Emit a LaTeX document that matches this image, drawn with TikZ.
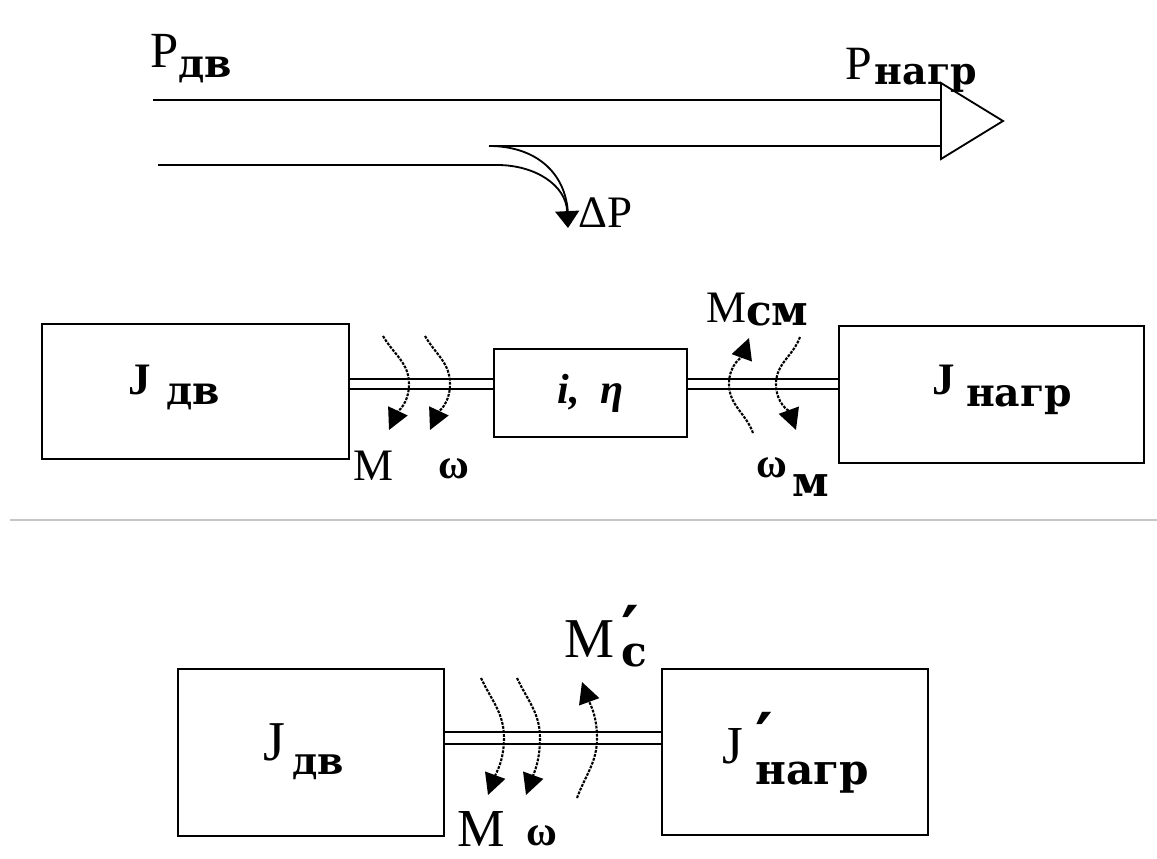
\documentclass[tikz,border=0pt]{standalone}
\usepackage{fontspec}
\setmainfont{Liberation Serif}
\newfontfamily\subfont{DejaVu Serif}
\usetikzlibrary{arrows.meta}

% one unit is one pixel of the sheet, y runs downwards
\newcommand{\pxl}{0.025cm}
\newcommand{\fs}[1]{\fontsize{#1}{#1}\selectfont}
% lowered bold index: shift, size, text
\newcommand{\idx}[3]{\raisebox{-#1}{\subfont\bfseries\fs{#2}#3}}
% prime above a lowered bold index: raise, shift, size, text
\newcommand{\pidx}[4]{\rlap{\raisebox{#1}{\subfont\bfseries\fs{48}′}}\raisebox{-#2}{\subfont\bfseries\fs{#3}#4}}

\begin{document}
\begin{tikzpicture}[x=\pxl, y=-\pxl,
	box/.style={draw, line width=1.5pt, inner sep=0pt, anchor=north west},
	shaft/.style={double, double distance=5.8pt, line width=1.3pt},
	torque/.style={line width=1.5pt, dash pattern=on 2pt off 0.9pt, -{Triangle[length=15pt,width=15pt]}},
	flow/.style={line width=1.3pt},
	lbl/.style={anchor=base west, inner sep=0pt}]
	\useasboundingbox[fill=white] (0,0) rectangle (1157,859);
	
	% power flow
	\coordinate (Pin) at (153,100);
	\coordinate (Pout) at (941,100);
	\coordinate (Rin) at (489,146);
	\coordinate (Rout) at (941,146);
	\coordinate (Lin) at (158,165);
	\coordinate (Lout) at (497,165);
	\coordinate (tip) at (1003,121);
	\coordinate (loss) at (568,228);
	\draw[flow] (Pin) -- (Pout);
	\draw[flow] (Rin) -- (Rout);
	\draw[flow] (Lin) -- (Lout);
	\draw[flow] (941,83) -- (tip) -- (941,159) -- cycle;
	\draw[flow] (Rin) .. controls (535,146) and (566,172) .. (568,214);
	\draw[flow, -{Triangle[length=12pt,width=17pt]}] (Lout) .. controls (535,165) and (566,185) .. (loss);
	
	\node[lbl, font=\fs{36}] (Pdv) at (150,68) {P\idx{7pt}{28}{дв}};
	\node[lbl, font=\fs{34}] (Pnagr) at (845,80) {P\hspace{2pt}\idx{3pt}{27}{нагр}};
	\node[lbl, font=\fs{32}] (dP) at (578,228) {ΔP};
	
	% real drive
	\node[box, minimum width=307*\pxl, minimum height=135*\pxl] (Jdv) at (41,323) {};
	\node[box, minimum width=193*\pxl, minimum height=88*\pxl, font=\fs{30}\bfseries\itshape] (gear) at (493,348) {i,\ \ η};
	\node[box, minimum width=305*\pxl, minimum height=137*\pxl] (Jnagr) at (838,325) {};
	\draw[shaft] (Jdv.east |- 0,384) -- (gear.west |- 0,384);
	\draw[shaft] (gear.east |- 0,384) -- (Jnagr.west |- 0,384);
	
	\draw[torque] (383,336) to[out=-60,in=90] (409,384) to[out=-90,in=65] (389,430);
	\draw[torque] (425,336) to[out=-60,in=90] (450,384) to[out=-90,in=65] (430,430);
	\draw[torque] (753,433) to[out=110,in=-90] (729,384) to[out=90,in=-110] (749,338);
	\draw[torque] (800,337) to[out=-110,in=90] (776,384) to[out=-90,in=110] (796,430);
	
	\node[lbl, font=\fs{32}\bfseries] (lJdv) at (128,395) {J\hspace{11pt}\idx{7pt}{28}{дв}};
	\node[lbl, font=\fs{32}] (lM) at (353,480) {M};
	\node[lbl, font=\fs{30}\bfseries] (lw) at (438,478) {ω};
	\node[lbl, font=\fs{32}] (lMcm) at (706,323) {M\idx{2pt}{30}{см}};
	\node[lbl, font=\fs{30}\bfseries] (lwm) at (756,477) {ω\hspace{4pt}\idx{14pt}{30}{м}};
	\node[lbl, font=\fs{32}\bfseries] (lJnagr) at (932,395) {J\hspace{8pt}\idx{8.5pt}{28}{нагр}};
	
	\draw[gray!45, line width=1.5pt] (10,520) -- (1157,520);
	
	% reduced drive
	\node[box, minimum width=266*\pxl, minimum height=167*\pxl] (Jdv2) at (177,668) {};
	\node[box, minimum width=266*\pxl, minimum height=166*\pxl] (Jred) at (661,668) {};
	\draw[shaft, double distance=7.2pt] (Jdv2.east |- 0,738) -- (Jred.west |- 0,738);
	
	\draw[torque] (481,678) to[out=-65,in=90] (504,738) to[out=-90,in=70] (488,795);
	\draw[torque] (517,678) to[out=-65,in=90] (540,738) to[out=-90,in=70] (526,795);
	\draw[torque] (577,798) to[out=70,in=-90] (597,738) to[out=90,in=-70] (582,682);
	
	\node[lbl, font=\fs{40}] (lJdv2) at (263,760) {J\hspace{5pt}\idx{10pt}{27}{дв}};
	\node[lbl, font=\fs{40}] (lMc) at (564,657) {M\hspace{5pt}\pidx{2pt}{7pt}{30}{с}};
	\node[lbl, font=\fs{38}] (lJred) at (722,763) {J\hspace{9pt}\pidx{1pt}{15pt}{30}{нагр}};
	\node[lbl, font=\fs{38}] (lM2) at (457,846) {M};
	\node[lbl, font=\fs{30}\bfseries] (lw2) at (526,845) {ω};
\end{tikzpicture}
\end{document}
